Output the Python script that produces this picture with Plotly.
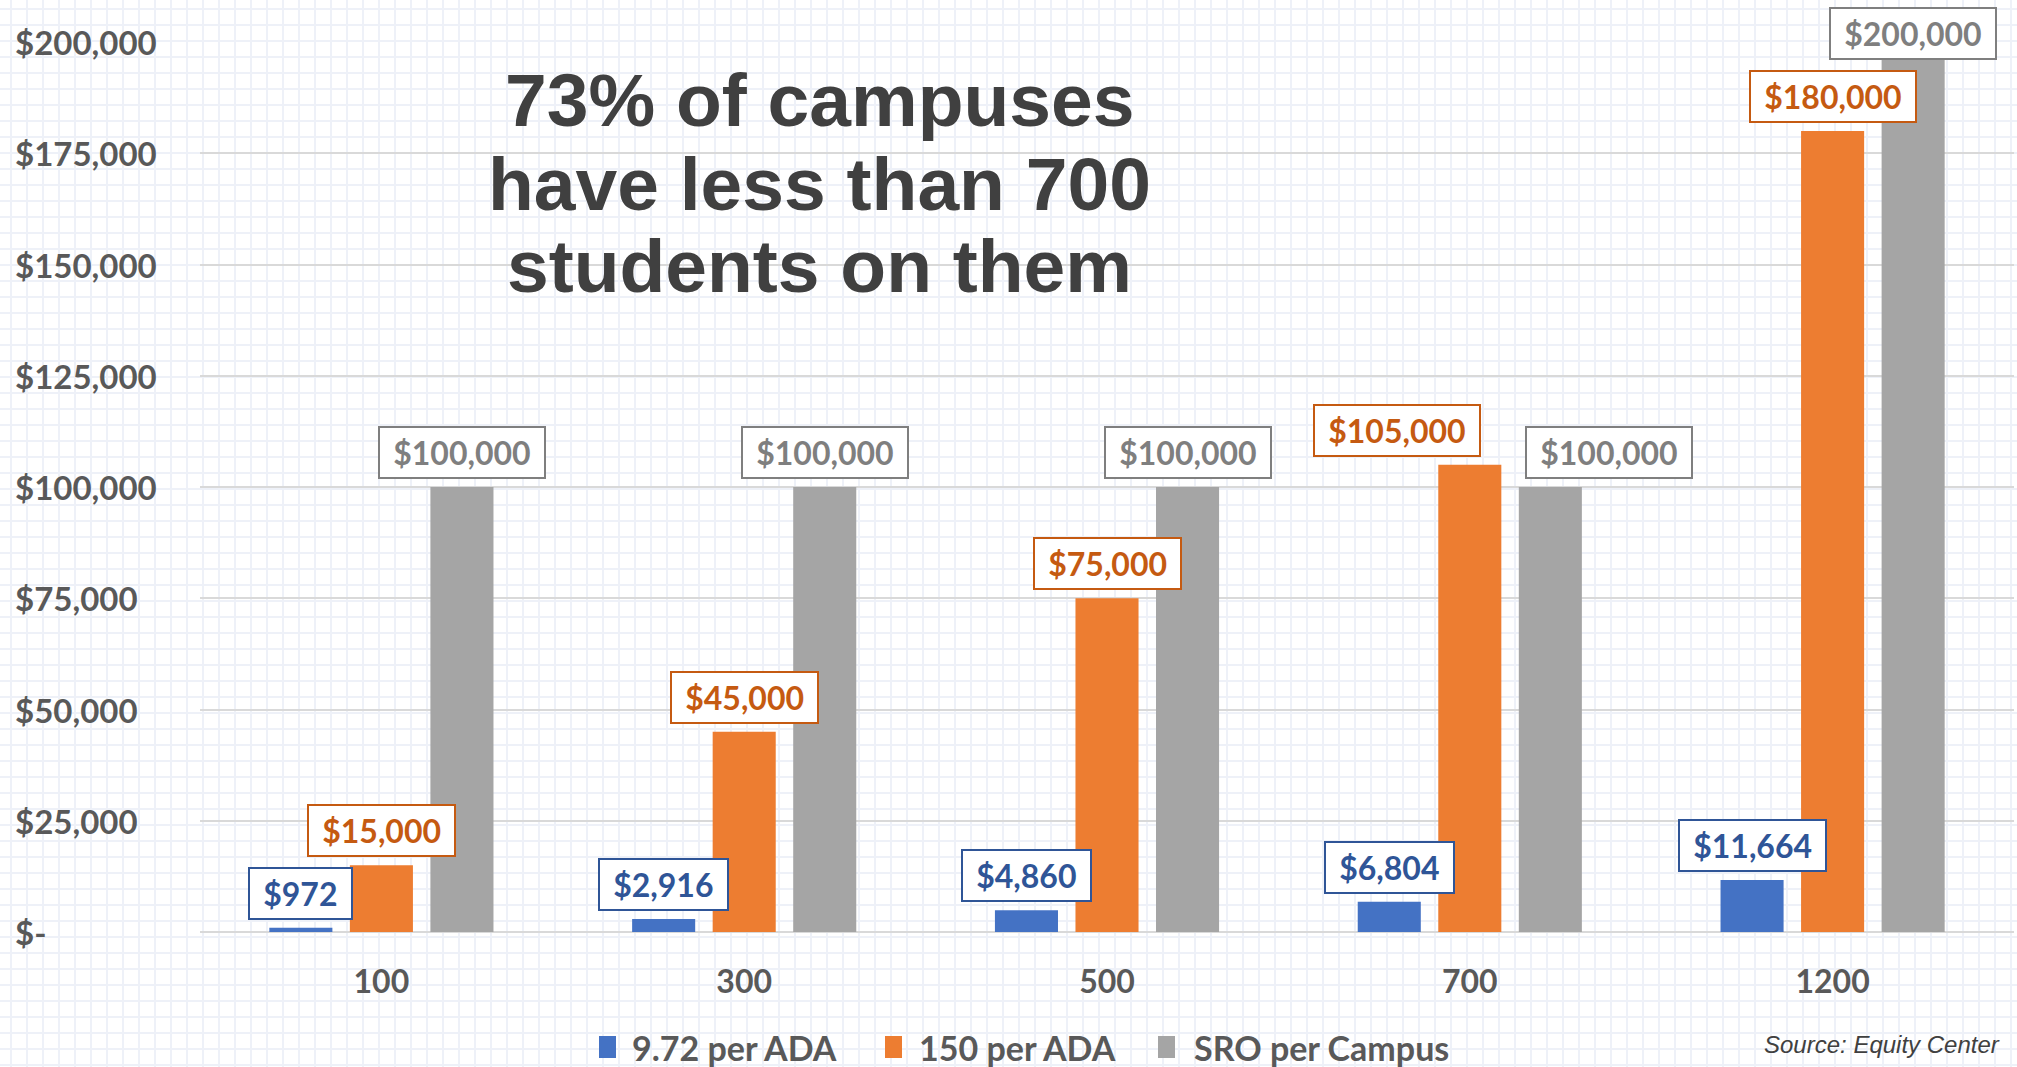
import plotly.graph_objects as go

# ---------------- data ----------------
categories = ["100", "300", "500", "700", "1200"]
per_ada_972 = [972, 2916, 4860, 6804, 11664]
per_ada_150 = [15000, 45000, 75000, 105000, 180000]
sro_per_campus = [100000, 100000, 100000, 100000, 200000]
series_names = ["9.72 per ADA", "150 per ADA", "SRO per Campus"]
y_ticks = [0, 25000, 50000, 75000, 100000, 125000, 150000, 175000, 200000]
y_tick_text = ["$-", "$25,000", "$50,000", "$75,000", "$100,000",
               "$125,000", "$150,000", "$175,000", "$200,000"]
title_lines = ["73% of campuses", "have less than 700", "students on them"]
source_text = "Source: Equity Center"

# ---------------- styling ----------------
W, H = 2017, 1067
L, R, T, B = 200, 3, 42, 135
PW, PH = W - L - R, H - T - B
bar_colors = ["#4472C4", "#ED7D31", "#A5A5A5"]
label_colors = ["#2F5597", "#C55A11", "#7F7F7F"]
FONT = "Lato"
AXIS_COLOR = "#595959"
BARGAP = 0.334
BARGROUPGAP = 0.217
# horizontal nudges (px) for labels that would collide: (series index, category index)
label_nudge = {(1, 3): -73, (2, 3): 59}
# manual legend layout (px): swatch left, text left
legend_swatch_x = [599, 885, 1158]
legend_text_x = [630, 917, 1192]
LEGEND_Y = 1047
NB = "\u00a0"

def px_x(p):
    return (p - L) / PW

def px_y(p):
    return (H - B - p) / PH

fig = go.Figure()
series = [per_ada_972, per_ada_150, sro_per_campus]
for name, vals, col in zip(series_names, series, bar_colors):
    fig.add_trace(go.Bar(x=categories, y=vals, name=name, marker_color=col,
                         marker_line_width=0, showlegend=False))

# data labels as boxed annotations (x given as category index)
cat_w = PW / len(categories)
slot = (1 - BARGAP) * cat_w / len(series)
ymax = max(max(s) for s in series)
annotations = []
for i, (vals, col) in enumerate(zip(series, label_colors)):
    xs = (i - (len(series) - 1) / 2) * slot
    for j, v in enumerate(vals):
        annotations.append(dict(
            x=j, y=v, xref="x", yref="y", text=f"{NB}<b>${v:,}</b>{NB}", showarrow=False,
            xanchor="center", yanchor="bottom",
            xshift=xs + label_nudge.get((i, j), 0),
            yshift=(-18 if v >= ymax else 8),
            font=dict(family=FONT, size=32, color=col),
            bgcolor="white", bordercolor=col, borderwidth=2, borderpad=5))

# y tick labels (left aligned, accounting style)
for v, t in zip(y_ticks, y_tick_text):
    annotations.append(dict(
        x=px_x(13), y=v, xref="paper", yref="y", text=f"<b>{t}</b>", showarrow=False,
        xanchor="left", yanchor="middle",
        font=dict(family=FONT, size=33, color=AXIS_COLOR)))

# title lines
for line, ypx in zip(title_lines, [100, 184, 266]):
    annotations.append(dict(
        x=px_x(819), y=px_y(ypx), xref="paper", yref="paper", text=f"<b>{line}</b>",
        showarrow=False, xanchor="center", yanchor="middle",
        font=dict(family="Liberation Sans", size=75, color="#404040")))

# source
annotations.append(dict(
    x=px_x(2002), y=px_y(1044), xref="paper", yref="paper",
    text=f"<i>{source_text}</i>", showarrow=False, xanchor="right", yanchor="middle",
    font=dict(family="Liberation Sans", size=24, color="#404040")))

# graph-paper background grid
segs = []
y_top, y_bot = px_y(0), px_y(H)
for xp in range(11, W + 1, 16):
    segs.append(f"M{px_x(xp):.5f},{y_bot:.5f}L{px_x(xp):.5f},{y_top:.5f}")
x_l, x_r = px_x(0), px_x(W)
for yp in range(9, H + 1, 16):
    segs.append(f"M{x_l:.5f},{px_y(yp):.5f}L{x_r:.5f},{px_y(yp):.5f}")
shapes = [dict(type="path", path="".join(segs), xref="paper", yref="paper",
               line=dict(color="#EEF1F8", width=2), layer="below")]

# legend (swatches + names)
for name, col, sx, tx in zip(series_names, bar_colors, legend_swatch_x, legend_text_x):
    shapes.append(dict(type="rect", xref="paper", yref="paper",
                       x0=px_x(sx), x1=px_x(sx + 17),
                       y0=px_y(LEGEND_Y + 11), y1=px_y(LEGEND_Y - 11),
                       fillcolor=col, line=dict(width=0)))
    annotations.append(dict(
        x=px_x(tx), y=px_y(LEGEND_Y), xref="paper", yref="paper", text=f"<b>{name}</b>",
        showarrow=False, xanchor="left", yanchor="middle",
        font=dict(family=FONT, size=34, color=AXIS_COLOR)))

fig.update_layout(
    width=W, height=H,
    margin=dict(l=L, r=R, t=T, b=B, pad=0, autoexpand=False),
    paper_bgcolor="white", plot_bgcolor="rgba(0,0,0,0)",
    barmode="group", bargap=BARGAP, bargroupgap=BARGROUPGAP,
    annotations=annotations, shapes=shapes,
    showlegend=False,
    font=dict(family=FONT),
)
fig.update_xaxes(type="category", range=[-0.5, len(categories) - 0.5],
                 showgrid=False, zeroline=False, showline=False,
                 ticks="outside", ticklen=22, tickcolor="rgba(0,0,0,0)",
                 tickfont=dict(family=FONT, size=32, color=AXIS_COLOR, weight="bold"))
fig.update_yaxes(range=[0, 200000], tickvals=y_ticks, showticklabels=False,
                 showgrid=True, gridcolor="#D9D9D9", gridwidth=2,
                 zeroline=True, zerolinecolor="#D9D9D9", zerolinewidth=2,
                 showline=False, fixedrange=True)

fig.write_html(
    "out.html",
    config={"displayModeBar": False},
    post_script="document.body.style.margin='0';document.body.style.overflow='hidden';",
)
